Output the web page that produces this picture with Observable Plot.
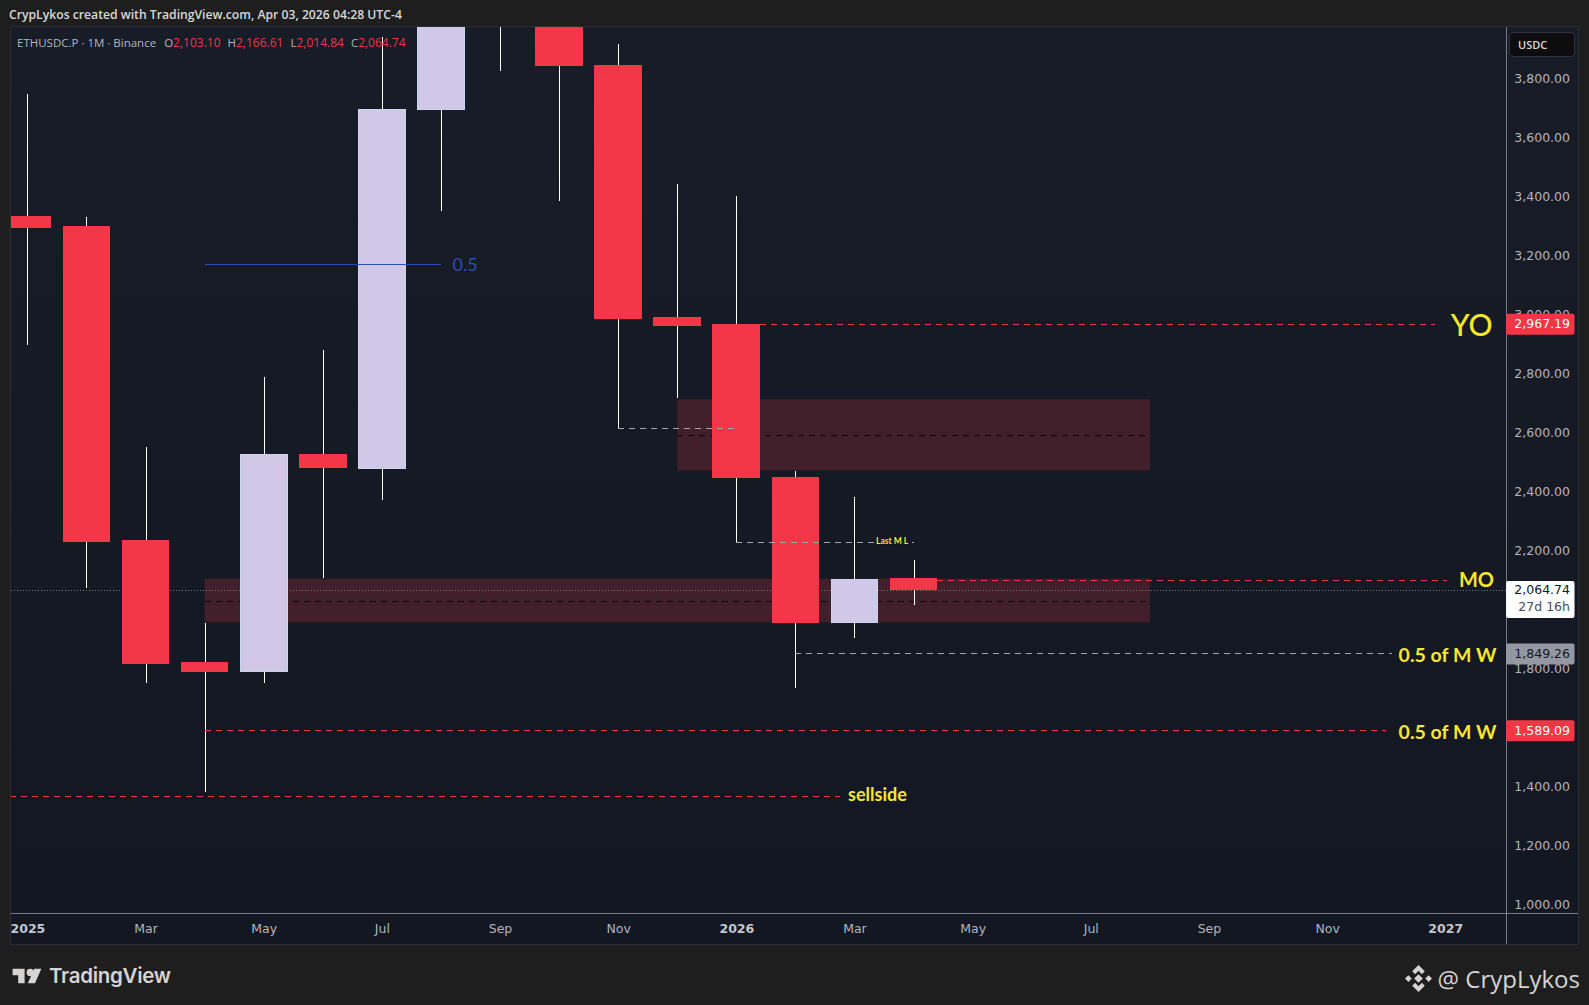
<!DOCTYPE html>
<html><head><meta charset="utf-8">
<script src="https://cdn.jsdelivr.net/npm/d3@7"></script>
<script src="https://cdn.jsdelivr.net/npm/@observablehq/plot@0.6"></script>
<style>
html,body{margin:0;padding:0;background:#1e1e1e;width:1589px;height:1005px;overflow:hidden}
#page{position:relative;width:1589px;height:1005px;font-family:"DejaVu Sans",sans-serif}
#head{position:absolute;left:9px;top:6px;font:600 12.2px "Open Sans",sans-serif;color:#d8d8d8;white-space:nowrap}
#chart{position:absolute;left:11px;top:27px;width:1567px;height:917px;outline:1px solid #2a2e39}
#chart svg{display:block}
#legend{position:absolute;left:17px;top:34px;font:11.5px "Open Sans",sans-serif;color:#b2b5be;white-space:nowrap}
#legend b{font-weight:400;color:#e8394a;font-size:12px}
#legend span{margin-left:7px}
#legend span:first-child{margin-left:0;margin-right:1px}
#usdc{position:absolute;left:1509px;top:32px;width:66px;height:25px;box-sizing:border-box;background:#0d0d0f;border:1px solid #2e323c;border-radius:4px;color:#d8d8d8;font:600 11px "Open Sans",sans-serif;line-height:23px;padding-left:8px}
#tv{position:absolute;left:12px;top:963px;display:flex;align-items:center;gap:7px;color:#d6d3d3;font:600 20.5px Inter,sans-serif;letter-spacing:-.3px}
#by{position:absolute;right:9px;top:962px;display:flex;align-items:center;gap:6px;color:#d6d3d3;font:24px "Open Sans",sans-serif}
</style></head><body>
<div id="page">
<div id="head">CrypLykos created with TradingView.com, Apr 03, 2026 04:28 UTC-4</div>
<div id="chart"></div>
<div id="legend"><span>ETHUSDC.P · 1M · Binance</span><span>O<b>2,103.10</b></span><span>H<b>2,166.61</b></span><span>L<b>2,014.84</b></span><span>C<b>2,064.74</b></span></div>
<div id="usdc">USDC</div>
<div id="tv"><svg width="30" height="16" viewBox="0 0 36 20"><path fill="#d6d3d3" d="M0 1h15v18H7V9H0zM22 1a4.5 4.5 0 1 1 0 9 4.5 4.5 0 0 1 0-9zM27 1h9l-8 18h-9z"/></svg><span>TradingView</span></div>
<div id="by"><svg width="27" height="27" viewBox="0 0 28 28"><path fill="#d6d3d3" d="M14 0l6.5 6.5-3 3L14 6l-3.500 3.500-3-3zM14 28l-6.500-6.500 3-3L14 22l3.500-3.500 3 3zM0 14l3.500-3.500L7 14l-3.500 3.500zM21 14l3.500-3.500L28 14l-3.500 3.500zM14 9.500l4.500 4.500-4.500 4.500L9.500 14z"/></svg><span>@ CrypLykos</span></div>
</div>
<script>
// Monthly candles, Jan 2025 onward (index 0 = Jan 2025)
const monthIdx = [0,1,2,3,4,5,6,7,8,9,10,11,12,13,14,15];
const opens  = [3329,3298,2233,1818,1787,2525,2477,3693,4390,4150,3844,2989,2965,2446,1955,2103.10];
const highs  = [3745,3329,2549,1952,2786,2879,3940,4950,4950,4755,3917,3442,3401,2467,2381,2166.61];
const lows   = [2896,2072,1749,1378,1749,2106,2370,3350,3824,3384,2614,2714,2226,1732,1903,2014.84];
const closes = [3295,2230,1814,1787,2525,2480,3693,4390,4150,3841,2986,2961,2446,1955,2099,2064.74];

// 2,000 and 1,600 sit fully behind the price tags in the reference, so they are not listed
const priceTicks = [1000,1200,1400,1800,2200,2400,2600,2800,3000,3200,3400,3600,3800];
const timeTicks = [0,2,4,6,8,10,12,14,16,18,20,22,24];
const timeLabels = ["2025","Mar","May","Jul","Sep","Nov","2026","Mar","May","Jul","Sep","Nov","2027"];
const yearLabels = ["2025","2026","2027"];

// Shaded zones
const zoneStart = [11,3], zoneEnd = [19,19], zoneLow = [2470,1955], zoneHigh = [2711,2103], zoneMid = [2590,2027];

// Levels
const levelNames = ["YO","MO","M W grey","M W red","sellside","nov low","jan low"];
const levelPrice = [2967.19,2099,1849.26,1589.09,1365,2614,2226];
const levelStart = [12.4,15.4,13,3,-0.3,10,12];
const levelEnd   = [23.83,24.03,23.1,23.0,13.76,12,15];
const levelColor = ["red","red","grey","red","red","grey","grey"];

const noteText  = ["YO","MO","0.5 of M W","0.5 of M W","sellside","Last M L","0.5"];
const noteX     = [24.44,24.52,24.03,24.03,14.38,14.63,7.4];
const noteY     = [2960,2099,1842,1582,1371,2230,3168];
const noteSize  = [30,20,19.5,19.5,18,8.5,18];
const noteColor = ["#f7e62f","#f7e62f","#f7e62f","#f7e62f","#f7e62f","#f7e62f","#2a4fb0"];
const noteWeight= [500,700,700,700,700,700,400];
const noteHalo  = [0,0,0,0,0,3,0];

const midX = [3,7], midPrice = 3168;

const boxPrice = [2967.19,2064.74,1849.26,1589.09];
const boxText  = ["2,967.19","2,064.74","1,849.26","1,589.09"];
const boxFill  = ["#f23645","#ffffff","#9598a1","#f23645"];
const boxInk   = ["#ffffff","#131722","#131722","#ffffff"];
const lastPrice = 2064.74, countdown = "27d 16h";

const RED="#f43649", LIGHT="#d1c8e8", DOT="#787b86";
const xMin=-0.2776, xMax=25.02, yMin=969.5, yMax=3973;
const pxPerUnit=0.295, pxPerMonth=59.07;
const candles = monthIdx.map((m,i)=>({m,o:opens[i],h:highs[i],l:lows[i],c:closes[i],up:closes[i]>opens[i]}));
const zones = zoneStart.map((s,i)=>({s,e:zoneEnd[i],lo:zoneLow[i],hi:zoneHigh[i],mid:zoneMid[i]}));
const levels = levelPrice.map((p,i)=>({p,s:levelStart[i],e:levelEnd[i],c:levelColor[i]}));
const notes = noteText.map((t,i)=>({t,x:noteX[i],y:noteY[i],size:noteSize[i],color:noteColor[i],w:noteWeight[i],halo:noteHalo[i]}));
const axisRight = xMax+72.5/pxPerMonth, axisBottom = yMin-31/pxPerUnit, boxL=xMax+0.01, boxR=xMax+69/pxPerMonth, labelR=boxR-5/pxPerMonth;
const ticks = priceTicks.map(v=>({v,t:d3.format(",.2f")(v)}));
const labels = timeTicks.map((m,i)=>({m,t:timeLabels[i],yr:yearLabels.includes(timeLabels[i])}));
const boxes = boxPrice.map((p,i)=>({p,t:boxText[i],f:boxFill[i],k:boxInk[i],tall:p===lastPrice}));
const axisY = yMin-15.5/pxPerUnit;

const noteMarks = notes.map(n=>Plot.text([n],{x:"x",y:"y",text:"t",fill:"color",fontSize:n.size,fontWeight:n.w,clip:false,
  fontFamily:"Lato, sans-serif",textAnchor:"middle",lineAnchor:"middle",
  stroke:n.halo?"#131722":"none",strokeWidth:n.halo,paintOrder:"stroke"}));

const plot = Plot.plot({
  width:1567,height:917,marginLeft:0,marginRight:72.5,marginTop:0,marginBottom:31,
  style:{background:"linear-gradient(#181c27,#131722)",overflow:"visible",fontFamily:"'DejaVu Sans',sans-serif"},
  x:{type:"linear",domain:[xMin,xMax],axis:null},
  y:{type:"linear",domain:[yMin,yMax],axis:null},
  marks:[
    Plot.rect(zones,{x1:"s",x2:"e",y1:"lo",y2:"hi",fill:"#42202b"}),
    Plot.ruleY(zones,{y:"mid",x1:"s",x2:"e",stroke:"#07080c",strokeDasharray:"6,5",strokeWidth:1,shapeRendering:"crispEdges"}),
    Plot.ruleY([lastPrice],{x1:xMin,x2:xMax,stroke:DOT,strokeDasharray:"1,2",strokeWidth:1,shapeRendering:"crispEdges"}),
    Plot.ruleX(candles,{x:"m",y1:"l",y2:"h",stroke:"#ffffff",strokeWidth:1,clip:"frame",shapeRendering:"crispEdges"}),
    Plot.rect(candles,{x1:d=>d.m-0.395,x2:d=>d.m+0.395,y1:"o",y2:"c",
      fill:d=>d.up?LIGHT:RED,stroke:d=>d.up?"#c6d6f0":RED,strokeWidth:1,clip:"frame",shapeRendering:"crispEdges"}),
    Plot.ruleY([midPrice],{x1:midX[0],x2:midX[1],stroke:"#2a4fb0",strokeWidth:1,shapeRendering:"crispEdges"}),
    Plot.ruleY(levels,{y:"p",x1:"s",x2:"e",stroke:d=>d.c==="red"?"#f23645":"#a3a6ad",strokeDasharray:"6,5",strokeWidth:1,clip:"frame",shapeRendering:"crispEdges"}),
    ...noteMarks,
    // axes
    Plot.ruleX([xMax],{y1:axisBottom,y2:yMax,stroke:"#787b86",clip:false,shapeRendering:"crispEdges"}),
    Plot.ruleY([yMin],{x1:xMin,x2:axisRight,stroke:"#787b86",clip:false,shapeRendering:"crispEdges"}),
    Plot.text(ticks,{x:labelR,y:"v",text:"t",fill:"#b2b5be",fontSize:12.5,textAnchor:"end",clip:false}),
    Plot.text(labels.filter(d=>!d.yr),{x:"m",y:axisY,text:"t",fill:"#b2b5be",fontSize:12.5,clip:false}),
    Plot.text(labels.filter(d=>d.yr),{x:"m",y:axisY,text:"t",fill:"#c3c6cd",fontSize:12.5,fontWeight:700,clip:false}),
    // price tags
    Plot.rect(boxes,{x1:boxL,x2:boxR,y1:d=>d.tall?d.p-28/pxPerUnit:d.p-11/pxPerUnit,y2:d=>d.tall?d.p+9/pxPerUnit:d.p+10/pxPerUnit,fill:"f",rx:2,clip:false}),
    Plot.text(boxes,{x:labelR,y:"p",text:"t",fill:"k",fontSize:12.5,textAnchor:"end",clip:false}),
    Plot.text([{p:lastPrice,t:countdown}],{x:labelR,y:d=>d.p-16.5/pxPerUnit,text:"t",fill:"#4a4d57",fontSize:12.5,textAnchor:"end",clip:false})
  ]
});
document.getElementById("chart").append(plot);
</script>
</body></html>
